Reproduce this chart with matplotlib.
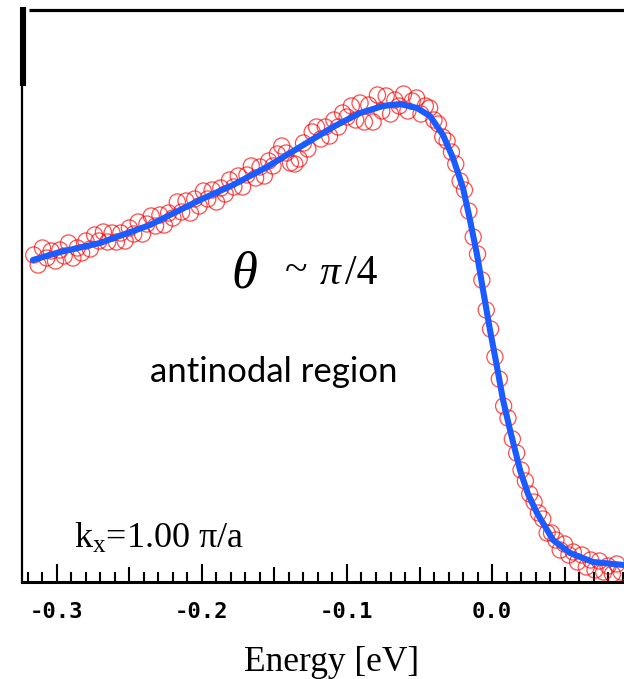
import matplotlib
matplotlib.use("Agg")
import matplotlib.pyplot as plt
import numpy as np
from matplotlib.ticker import FixedLocator, FixedFormatter, MultipleLocator

plt.rcParams['axes.unicode_minus'] = False
plt.rcParams['mathtext.fontset'] = 'custom'
plt.rcParams['mathtext.rm'] = 'Liberation Serif'
plt.rcParams['mathtext.it'] = 'Liberation Serif:italic'

# EDC data (energy in meV, intensity in arb. units)
energia_meV = [-316, -313, -310, -307, -304, -301, -298, -295, -292, -289,
               -286, -283, -280, -277, -274, -271, -268, -265, -262, -259,
               -256, -253, -250, -247, -244, -241, -238, -235, -232, -229,
               -226, -223, -220, -217, -214, -211, -208, -205, -202, -199,
               -196, -193, -190, -187, -184, -181, -178, -175, -172, -169,
               -166, -163, -160, -157, -154, -151, -148, -145, -142, -139,
               -136, -133, -130, -127, -124, -121, -118, -115, -112, -109,
               -106, -103, -100, -97, -94, -91, -88, -85, -82, -79,
               -76, -73, -70, -67, -64, -61, -58, -55, -52, -49,
               -46, -43, -40, -37, -34, -31, -28, -25, -22, -19,
               -16, -13, -10, -7, -4, -1, 2, 5, 8, 11,
               14, 17, 20, 23, 26, 29, 32, 35, 38, 41,
               44, 47, 50, 53, 56, 59, 62, 65, 68, 71,
               74, 77, 80, 83, 86, 89]
intensywnosc = [3.25, 3.15, 3.32, 3.22, 3.29, 3.19, 3.30, 3.24, 3.37, 3.22,
                3.32, 3.27, 3.39, 3.31, 3.45, 3.39, 3.48, 3.38, 3.47, 3.38,
                3.47, 3.39, 3.52, 3.46, 3.58, 3.46, 3.56, 3.64, 3.54, 3.65,
                3.55, 3.67, 3.62, 3.78, 3.68, 3.79, 3.67, 3.81, 3.74, 3.89,
                3.81, 3.90, 3.78, 3.92, 3.86, 4.00, 3.93, 4.04, 3.93, 4.05,
                4.14, 4.02, 4.13, 4.04, 4.19, 4.14, 4.26, 4.34, 4.27, 4.17,
                4.16, 4.21, 4.37, 4.31, 4.48, 4.53, 4.41, 4.53, 4.44, 4.60,
                4.53, 4.67, 4.63, 4.74, 4.60, 4.77, 4.58, 4.75, 4.58, 4.85,
                4.69, 4.84, 4.66, 4.80, 4.74, 4.86, 4.69, 4.79, 4.82, 4.66,
                4.74, 4.72, 4.60, 4.56, 4.43, 4.39, 4.28, 4.16, 3.99, 3.90,
                3.69, 3.43, 3.26, 3.00, 2.70, 2.51, 2.23, 2.01, 1.74, 1.62,
                1.41, 1.27, 1.10, 0.99, 0.86, 0.78, 0.67, 0.61, 0.47, 0.47,
                0.40, 0.30, 0.36, 0.25, 0.28, 0.18, 0.25, 0.13, 0.20, 0.10,
                0.19, 0.08, 0.14, 0.06, 0.16, 0.08]

# dopasowanie (fit)
fitEnergia = [-0.3166, -0.2979, -0.2703, -0.2359, -0.2014, -0.1786, -0.1552,
              -0.1324, -0.1097, -0.0910, -0.0752, -0.0634, -0.0517, -0.0428,
              -0.0338, -0.0269, -0.0200, -0.0152, -0.0103, -0.0062, -0.0014,
              0.0028, 0.0076, 0.0124, 0.0193, 0.0248, 0.0310, 0.0421, 0.0538,
              0.0697, 0.0910]
fitIntensywnosc = [3.20, 3.28, 3.37, 3.55, 3.80, 3.95, 4.13,
                   4.33, 4.53, 4.67, 4.74, 4.76, 4.72, 4.64,
                   4.45, 4.22, 3.92, 3.60, 3.25, 2.90, 2.50,
                   2.18, 1.80, 1.50, 1.10, 0.86, 0.67, 0.40, 0.27,
                   0.18, 0.15]

duzeTicki = [-0.3, -0.25, -0.2, -0.15, -0.1, -0.05, 0.0, 0.05]
etykietyTickow = ['-0.3', '', '-0.2', '', '-0.1', '', '0.0', '']

W, H = 624, 679
fig = plt.figure(figsize=(W / 100, H / 100), dpi=100)
ax = fig.add_axes([21.7 / W, (H - 581.5) / H, (W - 21.7) / W, 572 / H])

energia = np.array(energia_meV) / 1000.0
ax.scatter(energia, intensywnosc, s=135, facecolors='none', edgecolors='red',
           linewidths=0.9, alpha=0.7, zorder=2, clip_on=False)
ax.plot(fitEnergia, fitIntensywnosc, color='#1a5cff', lw=4.4,
        solid_capstyle='round', solid_joinstyle='round', zorder=3)

ax.set_xlim(-0.3243, 0.0910)
ax.set_ylim(-0.015, 5.705)
ax.set_yticks([])

ax.spines['right'].set_visible(False)
ax.spines['top'].set_visible(False)
ax.spines['bottom'].set_linewidth(2.2)
ax.spines['left'].set_linewidth(1.6)

# gorna os i gruby kawalek lewej osi
ax.plot([0.012, 1.0], [1.0, 1.0], transform=ax.transAxes, color='black',
        lw=2.3, clip_on=False, solid_capstyle='butt')
ax.plot([0.002, 0.002], [0.866, 1.004], transform=ax.transAxes, color='black',
        lw=4.4, clip_on=False, solid_capstyle='butt')

ax.xaxis.set_major_locator(FixedLocator(duzeTicki))
ax.xaxis.set_major_formatter(FixedFormatter(etykietyTickow))
ax.xaxis.set_minor_locator(MultipleLocator(0.01))
ax.tick_params(axis='x', which='major', direction='in', length=10.8, width=1.5,
               pad=15, labelsize=16)
ax.tick_params(axis='x', which='minor', direction='in', length=7.2, width=1.5)
for tick, lab in zip(ax.xaxis.get_major_ticks(), etykietyTickow):
    if lab != '':
        tick.tick1line.set_markersize(13)
for t in ax.get_xticklabels():
    t.set_fontfamily('DejaVu Sans Mono')
    t.set_fontweight('bold')

# teksty
fig.text(244 / W, 1 - 275 / H, 'θ', fontsize=38, family='Liberation Serif',
         style='italic', ha='center', va='center')
fig.text(296 / W, 1 - 271 / H, '~', fontsize=30, family='Liberation Serif',
         ha='center', va='center')
fig.text(320 / W, 1 - 284 / H, 'π', fontsize=30, family='Liberation Serif',
         style='italic', ha='left', va='baseline')
fig.text(345 / W, 1 - 284 / H, '/4', fontsize=30, family='Liberation Serif',
         ha='left', va='baseline')
fig.text(273.5 / W, 1 - 372 / H, 'antinodal region', fontsize=25, family='Lato',
         ha='center', va='center')
fig.text(74 / W, 1 - 548 / H, r'k$_{\mathrm{x}}$=1.00 π/a', fontsize=26,
         family='Liberation Serif', ha='left', va='baseline')
fig.text(332 / W, 1 - 671 / H, 'Energy [eV]', fontsize=25.5,
         family='Liberation Serif', ha='center', va='baseline')

fig.savefig('out.png', dpi=100)
